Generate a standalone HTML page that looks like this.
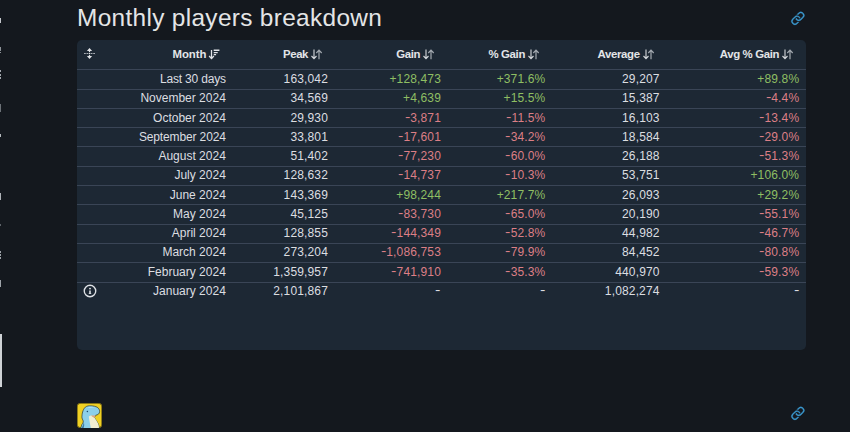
<!DOCTYPE html>
<html><head><meta charset="utf-8"><style>
html,body{margin:0;padding:0;}
body{width:850px;height:432px;overflow:hidden;background:#14181e;position:relative;font-family:"Liberation Sans",sans-serif;}
.title{position:absolute;left:77px;top:3.2px;font-size:24.4px;line-height:30px;color:#e4e5e6;white-space:nowrap;letter-spacing:0.33px;}
.tbl{position:absolute;left:77px;top:40px;width:729px;height:310px;background:#1d2834;border-radius:5px;}
.c{position:absolute;font-size:12px;line-height:14px;white-space:nowrap;}
.m{letter-spacing:0px;}
.n{letter-spacing:0.15px;}
.w{color:#dcdee1;}
.g{color:#8fbf63;}
.r{color:#dc7f86;}
.mi{display:inline-block;transform:scaleX(1.35) translateY(-0.9px);transform-origin:0 0;width:4px;margin-right:1.7px;}
.h{position:absolute;font-size:11.4px;line-height:14px;font-weight:bold;color:#e3e5e8;white-space:nowrap;letter-spacing:-0.35px;}
.ico{position:absolute;display:block;}
.ln{position:absolute;left:77px;width:729px;height:1px;background:#3a4556;}
.frag{position:absolute;left:0;}
</style></head><body>
<div class="frag" style="top:17.5px;height:5.8px;width:1.4px;background:#c3c6cb"></div><div class="frag" style="top:46.5px;height:2px;width:1.2px;background:#8d9298"></div><div class="frag" style="top:49.2px;height:1.6px;width:1.2px;background:#8d9298"></div><div class="frag" style="top:51.6px;height:1.8px;width:1.2px;background:#8d9298"></div><div class="frag" style="top:70px;height:2px;width:1.3px;background:#a3a8ae"></div><div class="frag" style="top:73.5px;height:2px;width:1.3px;background:#a3a8ae"></div><div class="frag" style="top:77px;height:2px;width:1.3px;background:#a3a8ae"></div><div class="frag" style="top:104px;height:8px;width:1.1px;background:#6c7177"></div><div class="frag" style="top:133.8px;height:3px;width:1.4px;background:#b5b9be"></div><div class="frag" style="top:192.5px;height:7px;width:1.4px;background:#aeb2b7"></div><div class="frag" style="top:223.5px;height:2.5px;width:1px;background:#5f646a"></div><div class="frag" style="top:251px;height:2px;width:1.3px;background:#9ea3a9"></div><div class="frag" style="top:254px;height:2px;width:1.3px;background:#9ea3a9"></div><div class="frag" style="top:257px;height:1.6px;width:1.3px;background:#9ea3a9"></div><div class="frag" style="top:280px;height:7px;width:1.3px;background:#9ea3a9"></div><div class="frag" style="top:333.5px;height:53px;width:1.6px;background:#cfd2d6"></div>
<div class="title">Monthly players breakdown</div>
<svg class="ico" style="left:788.3px;top:8.5px" width="18.6" height="18.6" viewBox="0 0 16 16"><g fill="#3a97cd" stroke="#3a97cd" stroke-width="0.25" transform="matrix(0,-1,-1,0,16,16)"><path d="M4.715 6.542 3.343 7.914a3 3 0 1 0 4.243 4.243l1.828-1.829A3 3 0 0 0 8.586 5.5L8 6.086a1 1 0 0 0-.154.199 2 2 0 0 1 .861 3.337L6.88 11.45a2 2 0 1 1-2.83-2.83l.793-.792a4 4 0 0 1-.128-1.287z"/><path d="M6.586 4.672A3 3 0 0 0 7.414 9.5l.775-.776a2 2 0 0 1-.896-3.346L9.12 3.55a2 2 0 1 1 2.83 2.83l-.793.792c.112.42.155.855.128 1.287l1.372-1.372a3 3 0 1 0-4.243-4.243z"/></g></svg>
<div class="tbl"></div>
<svg class="ico" style="left:83px;top:47px" width="13" height="13" viewBox="0 0 13 13"><g fill="#e3e5e8"><path d="M6.5 0.9L9.1 3.9H3.9z"/><rect x="5.9" y="3.5" width="1.2" height="1.7"/><path d="M6.5 12.1L9.1 9.1H3.9z"/><rect x="5.9" y="7.8" width="1.2" height="1.7"/><g fill="#a9aeb5"><rect x="1" y="6" width="1.8" height="1"/><rect x="3.5" y="6" width="1.8" height="1"/><rect x="7.7" y="6" width="1.8" height="1"/><rect x="10.2" y="6" width="1.8" height="1"/></g><rect x="5.9" y="6" width="1.2" height="1"/></g></svg>
<svg class="ico" style="left:82.5px;top:284.3px" width="14" height="14" viewBox="0 0 14 14"><circle cx="7" cy="7" r="5.75" fill="none" stroke="#dfe2e6" stroke-width="1.35"/><circle cx="7" cy="4.6" r="0.95" fill="#dfe2e6"/><path d="M6.2 6.6H7.8V9.2L8.7 9.9H5.3L6.2 9.2Z" fill="#dfe2e6"/></svg>
<div class="ln" style="top:69px"></div><div class="ln" style="top:89px"></div><div class="ln" style="top:108px"></div><div class="ln" style="top:127px"></div><div class="ln" style="top:146px"></div><div class="ln" style="top:166px"></div><div class="ln" style="top:185px"></div><div class="ln" style="top:204px"></div><div class="ln" style="top:224px"></div><div class="ln" style="top:243px"></div><div class="ln" style="top:262px"></div><div class="ln" style="top:282px"></div><div class="c w m" style="top:72.13px;right:624.20px;letter-spacing:-0.18px;">Last 30 days</div><div class="c w n" style="top:72.13px;right:522.00px;">163,042</div><div class="c g n" style="top:72.13px;right:409.00px;">+128,473</div><div class="c g n" style="top:72.13px;right:304.60px;">+371.6%</div><div class="c w n" style="top:72.13px;right:190.40px;">29,207</div><div class="c g n" style="top:72.13px;right:50.80px;">+89.8%</div><div class="c w m" style="top:91.38px;right:624.20px;">November 2024</div><div class="c w n" style="top:91.38px;right:522.00px;">34,569</div><div class="c g n" style="top:91.38px;right:409.00px;">+4,639</div><div class="c g n" style="top:91.38px;right:304.60px;">+15.5%</div><div class="c w n" style="top:91.38px;right:190.40px;">15,387</div><div class="c r n" style="top:91.38px;right:50.80px;"><span class="mi">-</span>4.4%</div><div class="c w m" style="top:110.63px;right:624.20px;">October 2024</div><div class="c w n" style="top:110.63px;right:522.00px;">29,930</div><div class="c r n" style="top:110.63px;right:409.00px;"><span class="mi">-</span>3,871</div><div class="c r n" style="top:110.63px;right:304.60px;"><span class="mi">-</span>11.5%</div><div class="c w n" style="top:110.63px;right:190.40px;">16,103</div><div class="c r n" style="top:110.63px;right:50.80px;"><span class="mi">-</span>13.4%</div><div class="c w m" style="top:129.88px;right:624.20px;letter-spacing:-0.13px;">September 2024</div><div class="c w n" style="top:129.88px;right:522.00px;">33,801</div><div class="c r n" style="top:129.88px;right:409.00px;"><span class="mi">-</span>17,601</div><div class="c r n" style="top:129.88px;right:304.60px;"><span class="mi">-</span>34.2%</div><div class="c w n" style="top:129.88px;right:190.40px;">18,584</div><div class="c r n" style="top:129.88px;right:50.80px;"><span class="mi">-</span>29.0%</div><div class="c w m" style="top:149.13px;right:624.20px;">August 2024</div><div class="c w n" style="top:149.13px;right:522.00px;">51,402</div><div class="c r n" style="top:149.13px;right:409.00px;"><span class="mi">-</span>77,230</div><div class="c r n" style="top:149.13px;right:304.60px;"><span class="mi">-</span>60.0%</div><div class="c w n" style="top:149.13px;right:190.40px;">26,188</div><div class="c r n" style="top:149.13px;right:50.80px;"><span class="mi">-</span>51.3%</div><div class="c w m" style="top:168.38px;right:624.20px;">July 2024</div><div class="c w n" style="top:168.38px;right:522.00px;">128,632</div><div class="c r n" style="top:168.38px;right:409.00px;"><span class="mi">-</span>14,737</div><div class="c r n" style="top:168.38px;right:304.60px;"><span class="mi">-</span>10.3%</div><div class="c w n" style="top:168.38px;right:190.40px;">53,751</div><div class="c g n" style="top:168.38px;right:50.80px;">+106.0%</div><div class="c w m" style="top:187.63px;right:624.20px;">June 2024</div><div class="c w n" style="top:187.63px;right:522.00px;">143,369</div><div class="c g n" style="top:187.63px;right:409.00px;">+98,244</div><div class="c g n" style="top:187.63px;right:304.60px;">+217.7%</div><div class="c w n" style="top:187.63px;right:190.40px;">26,093</div><div class="c g n" style="top:187.63px;right:50.80px;">+29.2%</div><div class="c w m" style="top:206.88px;right:624.20px;">May 2024</div><div class="c w n" style="top:206.88px;right:522.00px;">45,125</div><div class="c r n" style="top:206.88px;right:409.00px;"><span class="mi">-</span>83,730</div><div class="c r n" style="top:206.88px;right:304.60px;"><span class="mi">-</span>65.0%</div><div class="c w n" style="top:206.88px;right:190.40px;">20,190</div><div class="c r n" style="top:206.88px;right:50.80px;"><span class="mi">-</span>55.1%</div><div class="c w m" style="top:226.13px;right:624.20px;">April 2024</div><div class="c w n" style="top:226.13px;right:522.00px;">128,855</div><div class="c r n" style="top:226.13px;right:409.00px;"><span class="mi">-</span>144,349</div><div class="c r n" style="top:226.13px;right:304.60px;"><span class="mi">-</span>52.8%</div><div class="c w n" style="top:226.13px;right:190.40px;">44,982</div><div class="c r n" style="top:226.13px;right:50.80px;"><span class="mi">-</span>46.7%</div><div class="c w m" style="top:245.38px;right:624.20px;">March 2024</div><div class="c w n" style="top:245.38px;right:522.00px;">273,204</div><div class="c r n" style="top:245.38px;right:409.00px;"><span class="mi">-</span>1,086,753</div><div class="c r n" style="top:245.38px;right:304.60px;"><span class="mi">-</span>79.9%</div><div class="c w n" style="top:245.38px;right:190.40px;">84,452</div><div class="c r n" style="top:245.38px;right:50.80px;"><span class="mi">-</span>80.8%</div><div class="c w m" style="top:264.63px;right:624.20px;">February 2024</div><div class="c w n" style="top:264.63px;right:522.00px;">1,359,957</div><div class="c r n" style="top:264.63px;right:409.00px;"><span class="mi">-</span>741,910</div><div class="c r n" style="top:264.63px;right:304.60px;"><span class="mi">-</span>35.3%</div><div class="c w n" style="top:264.63px;right:190.40px;">440,970</div><div class="c r n" style="top:264.63px;right:50.80px;"><span class="mi">-</span>59.3%</div><div class="c w m" style="top:283.88px;right:624.20px;">January 2024</div><div class="c w n" style="top:283.88px;right:522.00px;">2,101,867</div><div class="c w n" style="top:283.88px;right:409.00px;"><span class="mi">-</span></div><div class="c w n" style="top:283.88px;right:304.60px;"><span class="mi">-</span></div><div class="c w n" style="top:283.88px;right:190.40px;">1,082,274</div><div class="c w n" style="top:283.88px;right:50.80px;"><span class="mi">-</span></div><div class="h" style="top:47.03px;right:643.60px;letter-spacing:-0.05px;">Month</div><svg class="ico" style="left:208.20px;top:48px" width="13" height="12" viewBox="0 0 13 12"><g stroke="#dfe2e6" stroke-width="1.3" fill="none"><path d="M3.5 2V10.3"/><path d="M1.1 8L3.5 10.5L5.9 8"/><path d="M5.7 2.25H11.4M5.7 4.6H9.7M5.7 6.6H8.1"/></g></svg><div class="h" style="top:47.03px;right:541.90px;">Peak</div><svg class="ico" style="left:309.90px;top:48px" width="14" height="13" viewBox="0 0 14 13"><g fill="none"><path d="M4 1.6V10.4M1.5 8L4 10.6L6.5 8" stroke="#d6d9dd" stroke-width="1.1"/><path d="M9 11.3V2.4M6.3 5L9 2.2L11.7 5" stroke="#a3a9b0" stroke-width="1.2"/></g></svg><div class="h" style="top:47.03px;right:429.90px;">Gain</div><svg class="ico" style="left:421.90px;top:48px" width="14" height="13" viewBox="0 0 14 13"><g fill="none"><path d="M4 1.6V10.4M1.5 8L4 10.6L6.5 8" stroke="#d6d9dd" stroke-width="1.1"/><path d="M9 11.3V2.4M6.3 5L9 2.2L11.7 5" stroke="#a3a9b0" stroke-width="1.2"/></g></svg><div class="h" style="top:47.03px;right:325.00px;">% Gain</div><svg class="ico" style="left:526.80px;top:48px" width="14" height="13" viewBox="0 0 14 13"><g fill="none"><path d="M4 1.6V10.4M1.5 8L4 10.6L6.5 8" stroke="#d6d9dd" stroke-width="1.1"/><path d="M9 11.3V2.4M6.3 5L9 2.2L11.7 5" stroke="#a3a9b0" stroke-width="1.2"/></g></svg><div class="h" style="top:47.03px;right:210.30px;">Average</div><svg class="ico" style="left:641.50px;top:48px" width="14" height="13" viewBox="0 0 14 13"><g fill="none"><path d="M4 1.6V10.4M1.5 8L4 10.6L6.5 8" stroke="#d6d9dd" stroke-width="1.1"/><path d="M9 11.3V2.4M6.3 5L9 2.2L11.7 5" stroke="#a3a9b0" stroke-width="1.2"/></g></svg><div class="h" style="top:47.03px;right:70.90px;">Avg % Gain</div><svg class="ico" style="left:780.90px;top:48px" width="14" height="13" viewBox="0 0 14 13"><g fill="none"><path d="M4 1.6V10.4M1.5 8L4 10.6L6.5 8" stroke="#d6d9dd" stroke-width="1.1"/><path d="M9 11.3V2.4M6.3 5L9 2.2L11.7 5" stroke="#a3a9b0" stroke-width="1.2"/></g></svg>
<svg class="ico" style="left:788.3px;top:403.7px" width="18.6" height="18.6" viewBox="0 0 16 16"><g fill="#3a97cd" stroke="#3a97cd" stroke-width="0.25" transform="matrix(0,-1,-1,0,16,16)"><path d="M4.715 6.542 3.343 7.914a3 3 0 1 0 4.243 4.243l1.828-1.829A3 3 0 0 0 8.586 5.5L8 6.086a1 1 0 0 0-.154.199 2 2 0 0 1 .861 3.337L6.88 11.45a2 2 0 1 1-2.83-2.83l.793-.792a4 4 0 0 1-.128-1.287z"/><path d="M6.586 4.672A3 3 0 0 0 7.414 9.5l.775-.776a2 2 0 0 1-.896-3.346L9.12 3.55a2 2 0 1 1 2.83 2.83l-.793.792c.112.42.155.855.128 1.287l1.372-1.372a3 3 0 1 0-4.243-4.243z"/></g></svg>
<div style="position:absolute;left:77px;top:402.8px;width:25px;height:25px;border-radius:4px;background:#efd024;overflow:hidden;box-shadow:inset 0 0 0 0.7px #6b5c12">
<svg width="25" height="25" viewBox="0 0 25 25"><path d="M3.5 25.5L4.9 21.5C5.6 20.3 6.4 19.3 6.25 18.1C5.8 16.6 4.8 15.5 4.9 13.9C5 11.8 5.2 10.2 5.6 9C6.3 6.7 7.2 5.2 8.3 4.2C10 2.9 12 2.6 13.9 2.8C16.5 2.9 18.8 3.5 20.1 4.2C21.8 5.3 22.7 6.9 22.6 8.3C22.6 9.6 22.2 10.6 21.5 11.1C20.5 11.8 19.6 12.1 18.75 12.2L17.4 14.6C18.5 16.5 19.8 18.3 20.8 20.1C21.5 21.4 22 22.8 22.2 25.5Z" fill="#8ccfe9" stroke="#2d3a38" stroke-width="0.7"/><path d="M10 4.5C12 3.6 15.5 3.4 18 4.3C16 4.8 13 5 10 4.5Z" fill="#b8e6f4"/><path d="M11.8 13.4C12.6 12.8 13.8 12.4 14.6 12.5L17.4 14.6C18.5 16.5 19.8 18.3 20.8 20.1C21.5 21.4 21.8 22.8 22 25.5H13.9C13.2 21 12.2 17 11.8 13.4Z" fill="#f1eed2"/><path d="M14 12.4H18.75L17.4 14.6C16.3 14.4 15 13.6 14 12.4Z" fill="#e4a578"/><circle cx="10.4" cy="8.4" r="0.75" fill="#1f4d6e"/><path d="M6.2 18.3C6.8 20 6.5 22 4.3 25.5H6.5C7.5 22.5 7.5 20 6.2 18.3Z" fill="#3d7ba3"/></svg>
</div>
</body></html>
